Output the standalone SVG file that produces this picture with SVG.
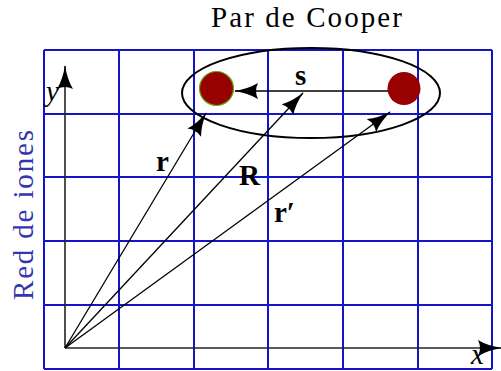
<svg xmlns="http://www.w3.org/2000/svg" width="501" height="371" viewBox="0 0 501 371">
<style>
.grid line{stroke:#1414c8;stroke-width:2}
.vec{stroke:#000;stroke-width:1.3;fill:none;marker-end:url(#ah)}
.axis{stroke:#222;stroke-width:1.6;fill:none;marker-end:url(#ah)}
</style>
<defs>
<marker id="ah" markerUnits="userSpaceOnUse" markerWidth="26" markerHeight="18" refX="23" refY="8" orient="auto" viewBox="0 0 26 18">
<path d="M0,0 Q10,6 24,8 Q10,10 0,16 Q4,8 0,0 Z" fill="#000"/>
</marker>
</defs>
<rect width="501" height="371" fill="#fff"/>
<g id="grid" class="grid">
<line x1="44" y1="50" x2="44" y2="369"/>
<line x1="119" y1="50" x2="119" y2="369"/>
<line x1="194" y1="50" x2="194" y2="369"/>
<line x1="268" y1="50" x2="268" y2="369"/>
<line x1="343" y1="50" x2="343" y2="369"/>
<line x1="418" y1="50" x2="418" y2="369"/>
<line x1="492" y1="50" x2="492" y2="369"/>
<line x1="44" y1="50" x2="492" y2="50"/>
<line x1="44" y1="114" x2="492" y2="114"/>
<line x1="44" y1="177" x2="492" y2="177"/>
<line x1="44" y1="241" x2="492" y2="241"/>
<line x1="44" y1="305" x2="492" y2="305"/>
<line x1="44" y1="369" x2="492" y2="369"/>
</g>
<g font-family="Liberation Serif, serif" font-size="29">
<text id="red-label" fill="#3535b0" transform="translate(33,300) rotate(-90)" textLength="170">Red de iones</text>
<text id="title" fill="#000" x="211" y="27" textLength="191">Par de Cooper</text>
</g>
<g id="axes">
<line class="axis" x1="65" y1="348" x2="65" y2="66"/>
<line class="axis" x1="65" y1="348" x2="501" y2="348"/>
<text font-family="Liberation Serif, serif" font-size="29" font-style="italic" x="46" y="101">y</text>
<text font-family="Liberation Serif, serif" font-size="29" font-style="italic" x="471" y="364">x</text>
</g>
<g id="pair">
<ellipse cx="311" cy="93" rx="129" ry="45" fill="none" stroke="#000" stroke-width="2"/>
</g>
<g id="electron1">
<circle cx="216.5" cy="88.5" r="17" fill="#990000" stroke="#66aa11" stroke-width="1.2"/>
</g>
<g id="electron2">
<circle cx="404" cy="88.5" r="16.5" fill="#990000"/>
</g>
<g id="connectors">
<line class="vec" x1="388" y1="91" x2="235" y2="91"/>
<line class="vec" x1="65" y1="348" x2="206" y2="113"/>
<line class="vec" x1="65" y1="348" x2="303" y2="93"/>
<line class="vec" x1="65" y1="348" x2="390" y2="112"/>
</g>
<g id="labels" font-family="Liberation Serif, serif" font-size="29" font-weight="bold">
<text x="295" y="85">s</text>
<text x="156" y="171">r</text>
<text x="239" y="185">R</text>
<text x="274" y="222">r′</text>
</g>
</svg>
